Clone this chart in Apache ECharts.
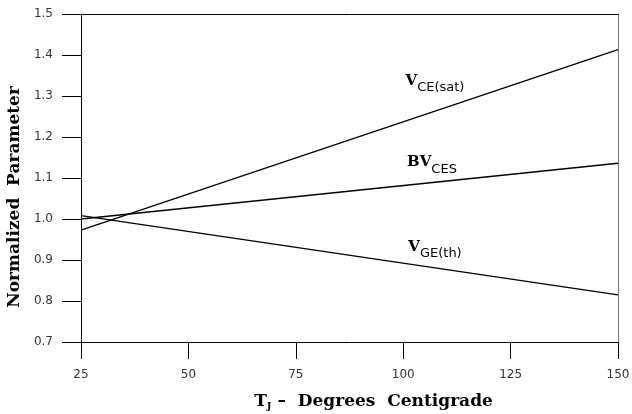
<!DOCTYPE html>
<html>
<head>
<meta charset="utf-8">
<script src="https://cdn.jsdelivr.net/npm/echarts@6/dist/echarts.min.js"></script>
<style>html,body{margin:0;padding:0;background:#fff}#c{width:632px;height:414px}</style>
</head>
<body>
<div id="c"></div>
<script>
var xTicks = [25, 50, 75, 100, 125, 150];
var yTicks = [0.7, 0.8, 0.9, 1.0, 1.1, 1.2, 1.3, 1.4, 1.5];
var tempC = [25, 150];
var vceSat = [0.973, 1.413];
var bvCes = [1.0, 1.136];
var vgeTh = [1.008, 0.815];
var labelVce = [107.4, 1.33];
var labelBv = [106.7, 1.131];
var labelVge = [107.4, 0.925];

function pairs(xs, ys) { return xs.map(function (x, i) { return [x, ys[i]]; }); }

var richLab = {
  v: { fontFamily: 'DejaVu Serif', fontWeight: 'bold', fontSize: 15, color: '#000', padding: [0, 0, 6, 0] },
  s: { fontFamily: 'DejaVu Sans', fontSize: 13, color: '#000', padding: [8, 0, 0, 0] }
};

function mp(coord, text) {
  return {
    symbol: 'circle', symbolSize: 0, silent: true, animation: false,
    label: { show: true, position: 'inside', rich: richLab, formatter: text },
    data: [{ coord: coord }]
  };
}

var chart = echarts.init(document.getElementById('c'), null, { renderer: 'canvas' });
var lineStyle = { color: '#000', width: 1.3 };
chart.setOption({
  animation: false,
  backgroundColor: '#fff',
  grid: { left: 81, right: 14, top: 14, bottom: 72, containLabel: false, outerBoundsMode: 'none' },
  xAxis: [{
    type: 'value', min: xTicks[0], max: xTicks[xTicks.length - 1], interval: 25,
    axisLine: { show: true, onZero: false, lineStyle: { color: '#000', width: 1 } },
    axisTick: { show: true, inside: false, length: 17, lineStyle: { color: '#000', width: 1 } },
    axisLabel: { margin: 27, fontFamily: 'DejaVu Sans', fontSize: 12, color: '#333' },
    splitLine: { show: false },
    name: '{t|T}{j|J}{t| –  Degrees  Centigrade}',
    nameLocation: 'middle', nameGap: 51,
    nameTextStyle: {
      padding: [0, 0, 0, 48],
      rich: {
        t: { fontFamily: 'DejaVu Serif', fontWeight: 'bold', fontSize: 17, color: '#000' },
        j: { fontFamily: 'DejaVu Serif', fontWeight: 'bold', fontSize: 10, color: '#000', padding: [8, 0, 0, 0] }
      }
    }
  }, {
    type: 'value', position: 'top', min: 25, max: 150, interval: 25,
    axisLine: { show: true, lineStyle: { color: '#000', width: 1 } },
    axisTick: { show: false }, axisLabel: { show: false }, splitLine: { show: false }
  }],
  yAxis: [{
    type: 'value', min: 0.7, max: 1.5, interval: 0.1,
    axisLine: { show: true, onZero: false, lineStyle: { color: '#000', width: 1 } },
    axisTick: { show: true, inside: false, length: 19, lineStyle: { color: '#000', width: 1 } },
    axisLabel: { margin: 28, fontFamily: 'DejaVu Sans', fontSize: 12, color: '#333',
      formatter: function (v) { return v.toFixed(1); } },
    splitLine: { show: false },
    name: 'Normalized  Parameter',
    nameLocation: 'middle', nameGap: 55, nameRotate: 90,
    nameTextStyle: { fontFamily: 'DejaVu Serif', fontWeight: 'bold', fontSize: 17, color: '#000', padding: [0, 38, 0, 0] }
  }, {
    type: 'value', position: 'right', min: 0.7, max: 1.5, interval: 0.1,
    axisLine: { show: true, lineStyle: { color: '#777', width: 1 } },
    axisTick: { show: false }, axisLabel: { show: false }, splitLine: { show: false }
  }],
  series: [
    { type: 'line', data: pairs(tempC, vceSat), symbol: 'none', lineStyle: lineStyle,
      markPoint: mp(labelVce, '{v|V}{s|CE(sat)}') },
    { type: 'line', data: pairs(tempC, bvCes), symbol: 'none', lineStyle: lineStyle,
      markPoint: mp(labelBv, '{v|BV}{s|CES}') },
    { type: 'line', data: pairs(tempC, vgeTh), symbol: 'none', lineStyle: lineStyle,
      markPoint: mp(labelVge, '{v|V}{s|GE(th)}') }
  ]
});
</script>
</body>
</html>
